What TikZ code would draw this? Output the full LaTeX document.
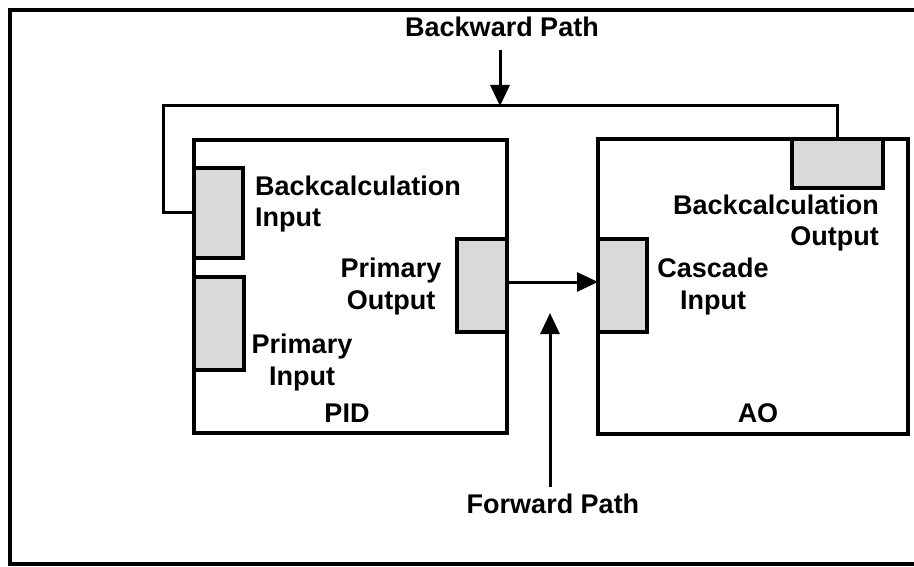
\documentclass[tikz,border=0pt]{standalone}
\usepackage{fontspec}
\setmainfont{Liberation Sans}
\usetikzlibrary{arrows.meta}
\tikzset{
  blk/.style={draw, line width=3.5pt, inner sep=0pt, outer sep=0pt, anchor=north west},
  port/.style={draw, line width=4pt, fill=gray!30, inner sep=0pt, outer sep=0pt, anchor=north west},
  lbl/.style={font=\fontsize{27}{32}\selectfont\bfseries, inner sep=0pt},
  link/.style={line width=3pt},
  flow/.style={line width=3pt, -{Triangle[length=21pt,width=19pt]}}
}
\begin{document}
\begin{tikzpicture}[x=1pt,y=-1pt]
        \useasboundingbox (0,0) rectangle (914,567);
        % Frame
        \draw [line width=4.5pt] (914,10) -- (10,10) -- (10,564) -- (914,564);
        % Blocks
        \node [blk, minimum width=313, minimum height=293] (pid) at (194,140) {};
        \node [blk, minimum width=310, minimum height=295] (ao) at (598,139) {};
        % Ports
        \node [port, minimum width=49, minimum height=90] (bcin) at (194,168) {};
        \node [port, minimum width=50, minimum height=93] (priin) at (194,277) {};
        \node [port, minimum width=50, minimum height=93] (priout) at (457,239) {};
        \node [port, minimum width=49, minimum height=93] (casin) at (598,239) {};
        \node [port, minimum width=91, minimum height=49] (bcout) at (792,139) {};
        % Labels (base = last line)
        \node [lbl, anchor=base west, align=left] (bcinlbl) at (255,227) {Backcalculation\\Input};
        \node [lbl, anchor=base, align=center] (prioutlbl) at (391,309) {Primary\\Output};
        \node [lbl, anchor=base, align=center] (priinlbl) at (302,385) {Primary\\Input};
        \node [lbl, anchor=base] (pidlbl) at (347,422) {PID};
        \node [lbl, anchor=base, align=center] (casinlbl) at (713,309) {Cascade\\Input};
        \node [lbl, anchor=base east, align=right] (bcoutlbl) at (879,246) {Backcalculation\\Output};
        \node [lbl, anchor=base] (aolbl) at (758,422) {AO};
        \node [lbl, anchor=base] (bwdlbl) at (502,37) {Backward Path};
        \node [lbl, anchor=base] (fwdlbl) at (553,513) {Forward Path};
        % Backward path
        \coordinate (loopL) at (163,106);
        \coordinate (bwdtail) at (500,50);
        \draw [link] (bcout.north) |- (loopL) |- (bcin.west);
        \draw [flow] (bwdtail) -- (bwdtail |- loopL);
        % Forward path
        \coordinate (fwdtip) at (550,313);
        \draw [flow] ([yshift=3.5pt]priout.east) -- ([yshift=3.5pt]casin.west);
        \draw [flow, shorten <=6pt] (fwdlbl.north -| fwdtip) -- (fwdtip);
    \end{tikzpicture}
\end{document}
